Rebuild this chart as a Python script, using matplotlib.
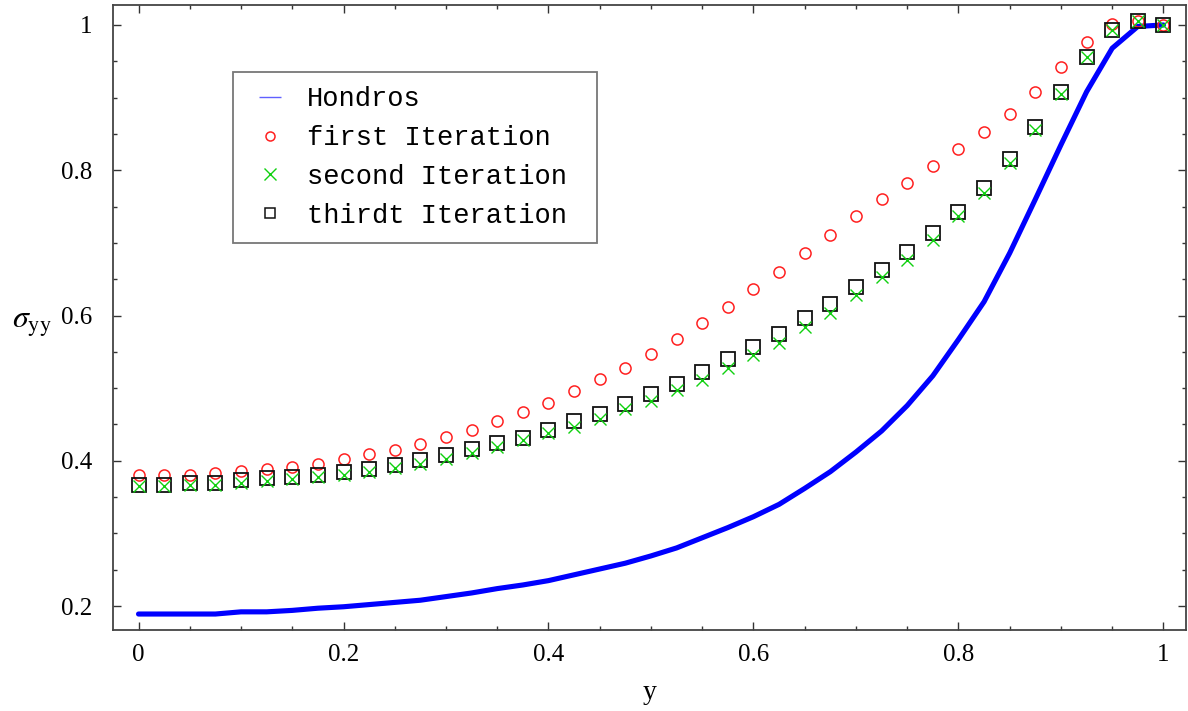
import numpy as np
import matplotlib
matplotlib.use("Agg")
import matplotlib.pyplot as plt
from matplotlib.lines import Line2D
from matplotlib.ticker import MultipleLocator

# Position across the section
y_pos = np.round(np.arange(0, 41) * 0.025, 3)

# Reference solution (Hondros)
hondros = [0.189, 0.189, 0.189, 0.189, 0.192, 0.192, 0.194, 0.197, 0.199, 0.202,
           0.205, 0.208, 0.213, 0.218, 0.224, 0.229, 0.235, 0.243, 0.251, 0.259,
           0.269, 0.280, 0.294, 0.308, 0.323, 0.340, 0.362, 0.385, 0.412, 0.441,
           0.476, 0.517, 0.567, 0.619, 0.686, 0.760, 0.835, 0.908, 0.968, 0.998,
           1.000]

# Iterative solutions
first_iter = [0.380, 0.380, 0.381, 0.383, 0.386, 0.389, 0.392, 0.396, 0.402, 0.409,
              0.415, 0.423, 0.433, 0.443, 0.455, 0.467, 0.480, 0.496, 0.512, 0.528,
              0.547, 0.568, 0.589, 0.612, 0.636, 0.660, 0.686, 0.711, 0.737, 0.760,
              0.783, 0.806, 0.829, 0.852, 0.877, 0.908, 0.942, 0.977, 1.002, 1.005,
              1.000]

second_iter = [0.365, 0.365, 0.366, 0.367, 0.370, 0.372, 0.375, 0.378, 0.381, 0.385,
               0.390, 0.396, 0.403, 0.411, 0.419, 0.428, 0.438, 0.447, 0.458, 0.471,
               0.482, 0.498, 0.511, 0.528, 0.546, 0.562, 0.584, 0.604, 0.628, 0.653,
               0.676, 0.704, 0.737, 0.769, 0.810, 0.855, 0.905, 0.956, 0.993, 1.005,
               1.000]

third_iter = [0.367, 0.367, 0.369, 0.370, 0.373, 0.376, 0.378, 0.381, 0.385, 0.389,
              0.394, 0.401, 0.408, 0.416, 0.424, 0.432, 0.443, 0.455, 0.465, 0.478,
              0.492, 0.506, 0.522, 0.540, 0.557, 0.575, 0.596, 0.616, 0.639, 0.662,
              0.688, 0.713, 0.743, 0.776, 0.816, 0.859, 0.908, 0.956, 0.993, 1.005,
              1.000]

labels = ["Hondros", "first Iteration", "second Iteration", "thirdt Iteration"]

plt.rcParams["mathtext.fontset"] = "stix"
serif = "Liberation Serif"
mono = "Liberation Mono"

W, H = 1188, 711
fig = plt.figure(figsize=(W / 100, H / 100), dpi=100)
ax_l, ax_r, ax_t, ax_b = 113, 1186, 5, 630
ax = fig.add_axes([ax_l / W, 1 - ax_b / H, (ax_r - ax_l) / W, (ax_b - ax_t) / H])

ax.plot(y_pos, hondros, color="#0000ff", lw=3.7, solid_joinstyle="round",
        solid_capstyle="round", zorder=2)
ax.plot(y_pos, first_iter, ls="none", marker="o", ms=8, mfc="none",
        mec="#ff2020", mew=1.1, zorder=3)
ax.plot(y_pos, third_iter, ls="none", marker="s", ms=10.5, mfc="none",
        mec="#111111", mew=1.3, zorder=4)
ax.plot(y_pos, second_iter, ls="none", marker="x", ms=9, mec="#10d010",
        mew=1.0, zorder=5)

ax.set_xlim(-0.0249, 1.022)
ax.set_ylim(0.167, 1.0275)

ax.xaxis.set_major_locator(MultipleLocator(0.2))
ax.xaxis.set_minor_locator(MultipleLocator(0.05))
ax.yaxis.set_major_locator(MultipleLocator(0.2))
ax.yaxis.set_minor_locator(MultipleLocator(0.05))
ax.xaxis.set_major_formatter(plt.FuncFormatter(lambda v, p: f"{v:g}"))
ax.yaxis.set_major_formatter(plt.FuncFormatter(lambda v, p: f"{v:g}"))

ax.tick_params(which="both", direction="in", top=True, right=True,
               color="#333333", width=1.0)
ax.tick_params(which="major", length=5.5)
ax.tick_params(which="minor", length=3)
ax.tick_params(axis="x", which="major", pad=10, labelsize=18)
ax.tick_params(axis="y", which="major", pad=15, labelsize=18)
for lab in ax.get_xticklabels() + ax.get_yticklabels():
    lab.set_fontfamily(serif)

for sp in ax.spines.values():
    sp.set_color("#444444")
    sp.set_linewidth(1.3)

ax.set_xlabel("y", fontsize=20, family=serif, labelpad=10)
ax.set_ylabel(r"$\sigma_{\mathrm{yy}}$", fontsize=23, rotation=0,
              ha="center", va="center")
ax.yaxis.set_label_coords(-0.076, 0.49)

handles = [
    Line2D([], [], ls="none", marker="_", ms=16, mec="#6060ff", mew=1.0),
    Line2D([], [], ls="none", marker="o", ms=6.5, mfc="none", mec="#ff2020", mew=1.1),
    Line2D([], [], ls="none", marker="x", ms=8, mec="#10d010", mew=1.0),
    Line2D([], [], ls="none", marker="s", ms=7.5, mfc="none", mec="#111111", mew=1.1),
]

# Legend box spans fixed pixel extents inside the axes
lg_l, lg_r, lg_t = 233, 597, 72
ax_w, ax_h = ax_r - ax_l, ax_b - ax_t
leg = ax.legend(handles, labels, loc="upper left", mode="expand",
                bbox_to_anchor=((lg_l - ax_l) / ax_w, (ax_b - lg_t) / ax_h - 0.01,
                                (lg_r - lg_l) / ax_w, 0.01),
                prop={"family": mono, "size": 19.5}, frameon=True, fancybox=False,
                borderpad=0.53, handlelength=1.69, handletextpad=0.52,
                labelspacing=0.47, borderaxespad=0)
leg.get_frame().set_edgecolor("#555555")
leg.get_frame().set_linewidth(1.3)

fig.savefig("out.png", dpi=100)
